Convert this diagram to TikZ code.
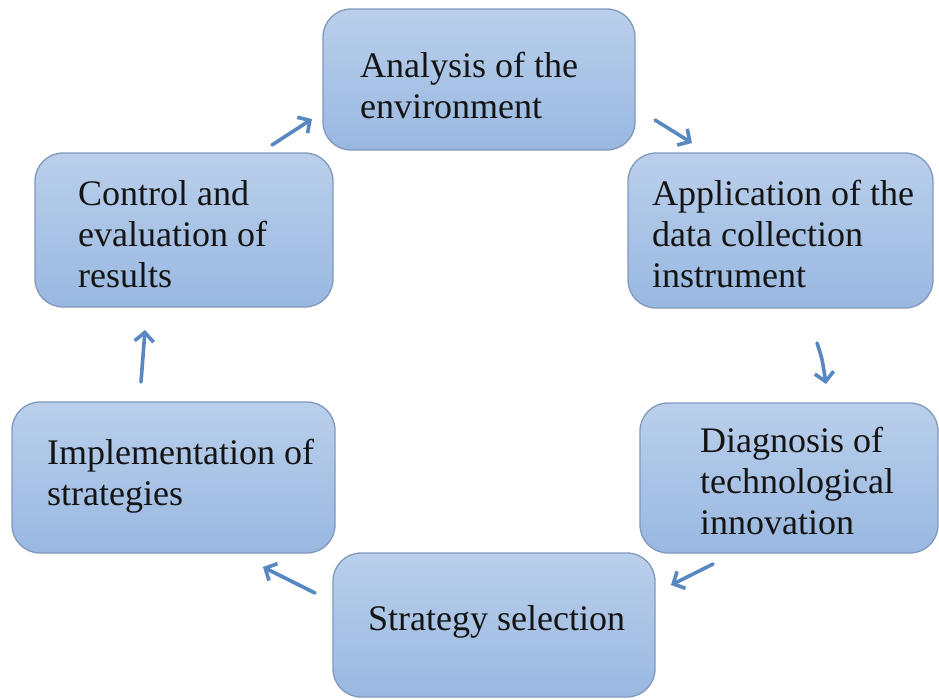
\documentclass[tikz,border=0pt]{standalone}
\usepackage{fontspec}
\setmainfont{Liberation Serif}
\usetikzlibrary{arrows.meta}
\definecolor{boxtop}{HTML}{BACFEB}
\definecolor{boxbottom}{HTML}{99B8E1}
\definecolor{boxline}{HTML}{8299BC}
\definecolor{flow}{HTML}{5887C1}
\definecolor{ink}{HTML}{141414}
\tikzset{
  stage/.style={draw=boxline, line width=1.3pt, rounded corners=28pt,
    top color=boxtop, bottom color=boxbottom, inner sep=0pt},
  % multi-line captions: the base anchor sits on the last line
  label/.style={anchor=base west, inner sep=0pt, align=left, text=ink,
    font=\fontsize{36}{41}\selectfont},
  flowarrow/.style={draw=flow, line width=3.6pt, line cap=round,
    -{Straight Barb[length=9pt,width=19pt,line width=3.6pt]}}
}
\begin{document}
\begin{tikzpicture}[x=1pt,y=-1pt]
\useasboundingbox (0,0) rectangle (939,699);
\fill[white] (0,0) rectangle (939,699);

% stages of the cycle
\node[stage, minimum width=312pt, minimum height=141pt] (analysis) at (479,79.5) {};
\node[stage, minimum width=305pt, minimum height=155pt] (application) at (780.5,230.5) {};
\node[stage, minimum width=298pt, minimum height=150pt] (diagnosis) at (789,478) {};
\node[stage, minimum width=322pt, minimum height=144pt] (strategy) at (494,625) {};
\node[stage, minimum width=323pt, minimum height=151pt] (implementation) at (173.5,477.5) {};
\node[stage, minimum width=298pt, minimum height=154pt] (control) at (184,230) {};

% stage captions
\node[label] (analysis-t) at (360,118) {Analysis of the\\environment};
\node[label] (application-t) at (652,287) {Application of the\\data collection\\instrument};
\node[label] (diagnosis-t) at (700,534) {Diagnosis of\\technological\\innovation};
\node[label] (strategy-t) at (368,630) {Strategy selection};
\node[label] (implementation-t) at (47,505) {Implementation of\\strategies};
\node[label] (control-t) at (78,287) {Control and\\evaluation of\\results};

% arrow end points between the stages
\coordinate (ca-s) at (272,145);  \coordinate (ca-e) at (312,119);
\coordinate (aa-s) at (655,120);  \coordinate (aa-e) at (692,143);
\coordinate (ad-s) at (817,343);  \coordinate (ad-e) at (826,384);
\coordinate (ds-s) at (713,564);  \coordinate (ds-e) at (671,585);
\coordinate (si-s) at (315,593);  \coordinate (si-e) at (263,567);
\coordinate (ic-s) at (141,382);  \coordinate (ic-e) at (145,330);

\draw[flowarrow] (ca-s) -- (ca-e);
\draw[flowarrow] (aa-s) -- (aa-e);
\draw[flowarrow] (ad-s) .. controls (822,358) .. (ad-e);
\draw[flowarrow] (ds-s) -- (ds-e);
\draw[flowarrow] (si-s) -- (si-e);
\draw[flowarrow] (ic-s) -- (ic-e);
\end{tikzpicture}
\end{document}
